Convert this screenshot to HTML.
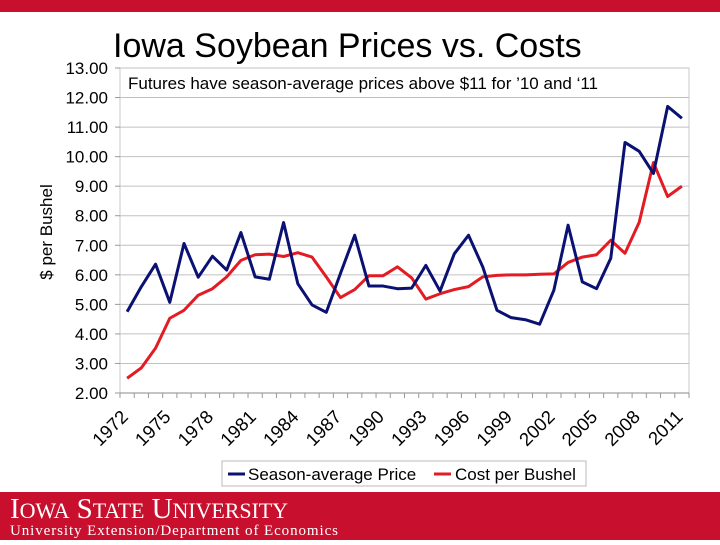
<!DOCTYPE html>
<html><head><meta charset="utf-8"><style>
body{margin:0;width:720px;height:540px;overflow:hidden;background:#fff;font-family:"Liberation Sans",sans-serif;}
</style></head><body>
<svg width="720" height="540" xmlns="http://www.w3.org/2000/svg">
<rect x="0" y="0" width="720" height="12" fill="#c8102e"/>
<text x="113" y="57" font-size="34" font-family="Liberation Sans,sans-serif">Iowa Soybean Prices vs. Costs</text>
<rect x="120" y="68" width="569" height="325" fill="#fff" stroke="#c8c8c8"/>
<g id="grid"></g>
<g id="yticks"></g>
<g id="xticks"></g>
<text x="128" y="89" font-size="17">Futures have season-average prices above $11 for ’10 and ‘11</text>
<text transform="translate(52,232) rotate(-90)" text-anchor="middle" font-size="17">$ per Bushel</text>
<g id="series"></g>
<rect x="222" y="461" width="364" height="25" fill="#fff" stroke="#bbb"/>
<g><line x1="228" y1="474" x2="245" y2="474" stroke="#0a1172" stroke-width="3"/><text x="248" y="480" font-size="17">Season-average Price</text></g>
<g><line x1="434" y1="474" x2="451" y2="474" stroke="#e31b23" stroke-width="3"/><text x="455" y="480" font-size="17">Cost per Bushel</text></g>
<rect x="0" y="492" width="720" height="48" fill="#c8102e"/>
<text x="10" y="518" fill="#fff" font-family="Liberation Serif,serif" font-size="29" textLength="278">I<tspan font-size="22">OWA</tspan> S<tspan font-size="22">TATE</tspan> U<tspan font-size="22">NIVERSITY</tspan></text>
<text x="10" y="535" fill="#fff" font-family="Liberation Serif,serif" font-size="15" textLength="328">University Extension/Department of Economics</text>
</svg>
<script>
const years=[1972,1973,1974,1975,1976,1977,1978,1979,1980,1981,1982,1983,1984,1985,1986,1987,1988,1989,1990,1991,1992,1993,1994,1995,1996,1997,1998,1999,2000,2001,2002,2003,2004,2005,2006,2007,2008,2009,2010,2011];
const price=[4.75,5.6,6.36,5.07,7.06,5.92,6.63,6.16,7.43,5.93,5.85,7.77,5.7,4.98,4.73,6.05,7.34,5.62,5.62,5.53,5.55,6.32,5.45,6.71,7.34,6.27,4.8,4.55,4.48,4.33,5.48,7.68,5.76,5.53,6.56,10.48,10.18,9.43,11.7,11.3];
const cost=[2.5,2.85,3.52,4.53,4.8,5.31,5.53,5.93,6.49,6.68,6.7,6.62,6.75,6.6,5.93,5.23,5.5,5.97,5.97,6.27,5.9,5.18,5.36,5.5,5.6,5.93,5.98,6.0,6.0,6.02,6.03,6.42,6.6,6.68,7.17,6.73,7.78,9.8,8.65,9.0];
const yTicks=[2,3,4,5,6,7,8,9,10,11,12,13];
const NS="http://www.w3.org/2000/svg";
const L=120,W=569,T=68,B=393,ymin=2,ymax=13;
const bw=W/years.length;
function xs(i){return L+bw*(i+0.5);}
function ys(v){return B-(v-ymin)/(ymax-ymin)*(B-T);}
function mk(tag,attrs,parent){const e=document.createElementNS(NS,tag);for(const k in attrs)e.setAttribute(k,attrs[k]);parent.appendChild(e);return e;}
const grid=document.getElementById('grid'),yt=document.getElementById('yticks'),xt=document.getElementById('xticks'),ser=document.getElementById('series');
yTicks.forEach(v=>{
  const y=ys(v);
  if(v>ymin){const g=mk('line',{x1:L,x2:L+W,y1:y,y2:y,stroke:'#c0c0c0','stroke-width':1},grid);
  
  }
  mk('line',{x1:L-5,x2:L,y1:y,y2:y,stroke:'#999'},yt);
  const t=mk('text',{x:108,y:y+6,'text-anchor':'end','font-size':17},yt);
  t.textContent=v.toFixed(2);
  
  
});
mk('line',{x1:L,x2:L+W,y1:B,y2:B,stroke:'#888'},xt);
for(let i=0;i<=years.length;i++){mk('line',{x1:L+bw*i,x2:L+bw*i,y1:B,y2:B+5,stroke:'#999'},xt);}
years.forEach((yr,i)=>{
  if((yr-1972)%3!==0)return;
  const x=xs(i);
  const t=mk('text',{x:0,y:0,'text-anchor':'end','font-size':18.5,transform:`translate(${x+2},${B+25}) rotate(-45)`},xt);
  t.textContent=yr;
  
  
});
function line(vals,color,name){
  const p=mk('polyline',{points:vals.map((v,i)=>xs(i)+','+ys(v)).join(' '),fill:'none',stroke:color,'stroke-width':3,'stroke-linejoin':'round'},ser);
  
  
}
line(cost,'#e31b23','cost-line');
line(price,'#0a1172','price-line');
</script>
</body></html>
